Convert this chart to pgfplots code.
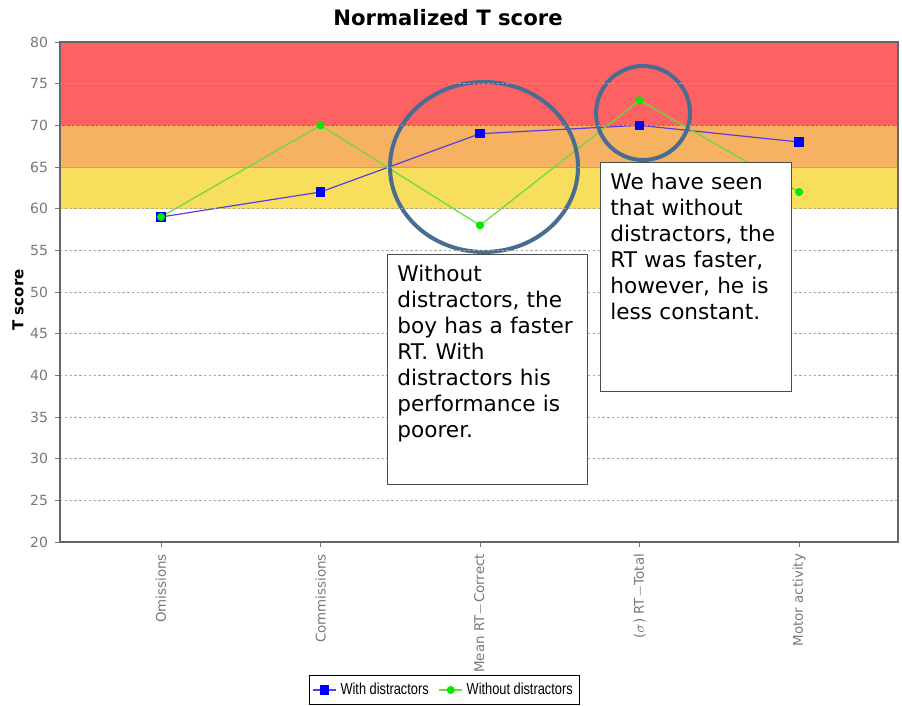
\documentclass[border=0pt]{standalone}
\usepackage{pgfplots}
\pgfplotsset{compat=1.18}
\usepackage{fontspec}
\setmainfont{DejaVu Sans}
\setsansfont{DejaVu Sans}
\newfontfamily\legfont{Liberation Sans}[FakeStretch=0.8]
\definecolor{bandred}{RGB}{253,98,98}
\definecolor{bandorange}{RGB}{246,178,96}
\definecolor{bandyellow}{RGB}{247,222,92}
\definecolor{linered}{RGB}{225,75,50}
\definecolor{lineorange}{RGB}{238,150,70}
\definecolor{withc}{RGB}{90,60,225}
\definecolor{withm}{RGB}{0,0,255}
\definecolor{woc}{RGB}{100,220,60}
\definecolor{wom}{RGB}{0,235,0}
\definecolor{circc}{RGB}{72,108,146}
\definecolor{tickgray}{RGB}{120,120,120}
\begin{document}
\begin{tikzpicture}
\path[use as bounding box] (0pt,0pt) rectangle (451pt,353pt);
\begin{axis}[
  at={(30pt,82pt)}, anchor=south west,
  scale only axis, width=419pt, height=250pt,
  xmin=-0.633, xmax=4.62, ymin=20, ymax=80,
  xtick={0,1,2,3,4},
  xticklabels={Omissions,Commissions,Mean RT$-$Correct,($\sigma$) RT$-$Total,Motor activity},
  ytick={20,25,...,80},
  xticklabel style={rotate=90, anchor=east, font=\fontsize{6.7}{8}\selectfont, text=tickgray},
  yticklabel style={font=\fontsize{7}{8}\selectfont, text=tickgray},
  /pgf/number format/assume math mode=true,
  tick align=outside, major tick length=2.5pt,
  xtick pos=bottom, ytick pos=left,
  tick style={tickgray, line width=0.4pt},
  ymajorgrids, grid style={gray!70, dash pattern=on 1.2pt off 1.2pt, line width=0.35pt},
  axis line style={gray!80!black, line width=0.7pt},
  axis on top,
  clip=false,
  legend columns=2,
  legend style={at={(0.459,-0.296)}, anchor=center, draw=black, line width=0.6pt,
    font=\legfont\fontsize{8}{9}\selectfont, inner sep=1.5pt,
    /tikz/every even column/.append style={column sep=3pt}},
  legend image code/.code={\draw[mark repeat=2,mark phase=2] plot coordinates {(0cm,0cm) (0.2cm,0cm) (0.4cm,0cm)};},
  legend cell align=left,
]
\fill[bandred] (axis cs:-0.633,70) rectangle (axis cs:4.62,80);
\fill[bandorange] (axis cs:-0.633,65) rectangle (axis cs:4.62,70);
\fill[bandyellow] (axis cs:-0.633,60) rectangle (axis cs:4.62,65);
\draw[linered, line width=0.6pt] (axis cs:-0.633,70) -- (axis cs:4.62,70);
\draw[lineorange, line width=0.5pt] (axis cs:-0.633,65) -- (axis cs:4.62,65);
\addplot[withc, line width=0.6pt, mark=square*, mark size=2pt, mark options={withm, fill=withm}]
  coordinates {(0,59) (1,62) (2,69) (3,70) (4,68)};
\addlegendentry{With distractors}
\addplot[woc, line width=0.6pt, mark=*, mark size=1.7pt, mark options={wom, fill=wom}]
  coordinates {(0,59) (1,70) (2,58) (3,73) (4,62)};
\addlegendentry{Without distractors}
\draw[circc, line width=2pt] (axis cs:2.025,65) ellipse [x radius=47pt, y radius=42.5pt];
\draw[circc, line width=2pt] (axis cs:3.022,71.48) ellipse [x radius=23.5pt, y radius=23.5pt];
\end{axis}
% title and y label
\node[font=\bfseries\fontsize{10.6}{12}\selectfont] at (224pt,344pt) {Normalized T score};
\node[font=\bfseries\fontsize{7.5}{9}\selectfont, rotate=90] at (9pt,203pt) {T score};
% annotation boxes
\draw[fill=white, draw=gray!60!black, line width=0.5pt] (193.5pt,110.5pt) rectangle (293.5pt,225.5pt);
\node[anchor=north west, inner sep=0pt, text width=95pt, align=left,
  font=\fontsize{10.8}{13}\selectfont] at (198.5pt,220.5pt)
  {Without\\distractors, the\\boy has a faster\\RT. With\\distractors his\\performance is\\poorer.};
\draw[fill=white, draw=gray!60!black, line width=0.5pt] (300pt,157pt) rectangle (395.5pt,271.5pt);
\node[anchor=north west, inner sep=0pt, text width=92pt, align=left,
  font=\fontsize{10.8}{13}\selectfont] at (305pt,266.5pt)
  {We have seen\\that without\\distractors, the\\RT was faster,\\however, he is\\less constant.};
\end{tikzpicture}
\end{document}
